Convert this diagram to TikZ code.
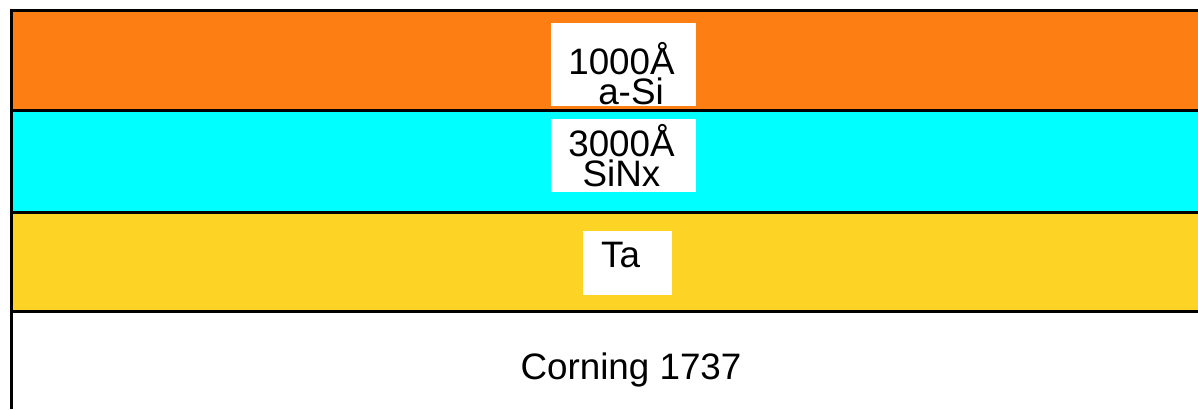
\documentclass[tikz,border=0pt]{standalone}
\usepackage{fontspec}
\setmainfont{Liberation Sans}
\definecolor{asi}{RGB}{253,127,20}
\definecolor{sinx}{RGB}{0,255,255}
\definecolor{ta}{RGB}{253,211,37}
\begin{document}
\begin{tikzpicture}[x=0.5pt,y=-0.5pt,
  sep/.style={draw=black,line width=1.5pt},
  label/.style={anchor=base,inner sep=0pt,font=\fontsize{18.4}{14.6}\selectfont},
  whitebox/.style={fill=white,draw=none}]
\useasboundingbox (0,0) rectangle (1198,409);
% layers
\fill[asi] (11.5,10) rectangle (1198,110.5);
\fill[sinx] (11.5,110.5) rectangle (1198,212);
\fill[ta] (11.5,212) rectangle (1198,311.5);
\fill[white] (11.5,311.5) rectangle (1198,409);
% white label boxes
\fill[whitebox] (551,23) rectangle (696,106);
\fill[whitebox] (551,119) rectangle (696,192);
\fill[whitebox] (583,231) rectangle (672,295);
% lines
\draw[sep] (11.5,409) -- (11.5,10) -- (1198,10);
\draw[sep] (11.5,110.5) -- (1198,110.5);
\draw[sep] (11.5,212) -- (1198,212);
\draw[sep] (11.5,311.5) -- (1198,311.5);
% texts
\node[label,align=center] (t1) at (621.5,104) {1000Å\\\hspace{9.5pt}a-Si};
\node[label,align=center] (t3) at (621.5,186) {3000Å\\SiNx};
\node[label] (t5) at (620.5,267) {Ta};
\node[label] (t6) at (631,379) {Corning 1737};
\end{tikzpicture}
\end{document}
